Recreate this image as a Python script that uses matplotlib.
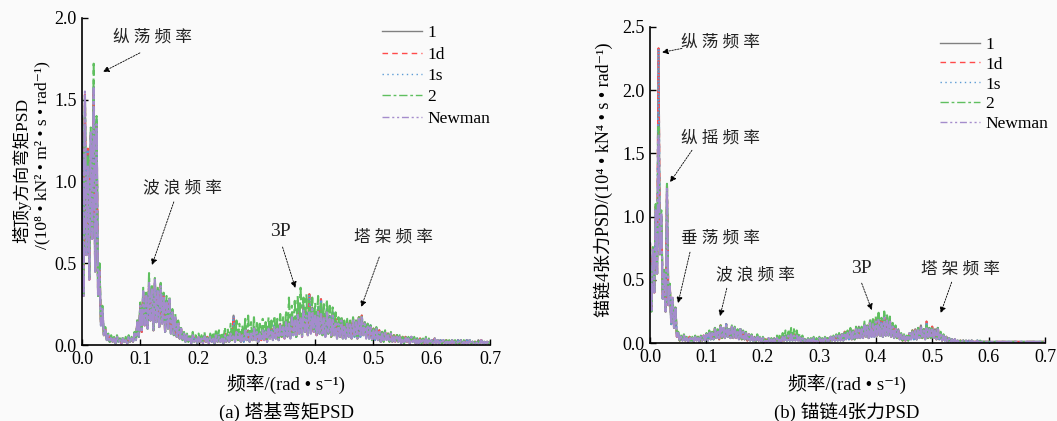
import numpy as np
import matplotlib
matplotlib.use("Agg")
import matplotlib.pyplot as plt

plt.rcParams['font.family'] = ['Liberation Serif', 'Noto Sans CJK SC', 'DejaVu Serif']
plt.rcParams['axes.unicode_minus'] = False

# ---------------- data ----------------
# peak values every 0.005 rad/s from 0 to 0.7, trough values in between
series_names = ['1', '1d', '1s', '2', 'Newman']

# (a) tower base moment PSD
a_newman = [1.35, 1.55, 1.10, 1.30, 1.57, 1.35, 0.45, 0.22, 0.10, 0.06,
            0.05, 0.04, 0.05, 0.03, 0.04, 0.03, 0.05, 0.04, 0.07, 0.14,
            0.24, 0.33, 0.30, 0.38, 0.34, 0.40, 0.33, 0.36, 0.30, 0.26,
            0.28, 0.20, 0.17, 0.13, 0.10, 0.07, 0.06, 0.05, 0.06, 0.04,
            0.05, 0.04, 0.06, 0.04, 0.05, 0.04, 0.06, 0.05, 0.04, 0.06,
            0.05, 0.07, 0.06, 0.08, 0.07, 0.06, 0.09, 0.08, 0.07, 0.10,
            0.08, 0.07, 0.09, 0.08, 0.10, 0.09, 0.11, 0.10, 0.12, 0.11,
            0.14, 0.13, 0.17, 0.15, 0.19, 0.17, 0.21, 0.18, 0.20, 0.22,
            0.18, 0.21, 0.19, 0.17, 0.20, 0.16, 0.18, 0.14, 0.13, 0.15,
            0.12, 0.14, 0.13, 0.15, 0.14, 0.16, 0.17, 0.13, 0.12, 0.11,
            0.09, 0.10, 0.08, 0.07, 0.08, 0.06, 0.07, 0.05, 0.06, 0.05,
            0.04, 0.05, 0.04, 0.05, 0.04, 0.03, 0.04, 0.03, 0.04, 0.03,
            0.03, 0.04, 0.03, 0.02, 0.03, 0.03, 0.02, 0.03, 0.02, 0.02,
            0.03, 0.02, 0.02, 0.03, 0.02, 0.02, 0.02, 0.03, 0.02, 0.02,
            0.02]
a_2 = [1.38, 1.52, 1.15, 1.33, 1.72, 1.40, 0.50, 0.24, 0.11, 0.07,
       0.06, 0.05, 0.06, 0.04, 0.05, 0.05, 0.06, 0.05, 0.08, 0.16,
       0.26, 0.35, 0.32, 0.44, 0.36, 0.41, 0.35, 0.38, 0.32, 0.30,
       0.30, 0.22, 0.19, 0.15, 0.11, 0.08, 0.07, 0.07, 0.08, 0.06,
       0.07, 0.06, 0.08, 0.06, 0.07, 0.08, 0.10, 0.09, 0.08, 0.11,
       0.10, 0.13, 0.12, 0.15, 0.13, 0.12, 0.16, 0.18, 0.14, 0.17,
       0.15, 0.13, 0.16, 0.14, 0.17, 0.15, 0.18, 0.16, 0.19, 0.17,
       0.21, 0.29, 0.24, 0.27, 0.30, 0.35, 0.29, 0.31, 0.27, 0.29,
       0.26, 0.30, 0.27, 0.25, 0.28, 0.24, 0.23, 0.20, 0.17, 0.18,
       0.15, 0.16, 0.15, 0.17, 0.16, 0.17, 0.18, 0.15, 0.13, 0.12,
       0.10, 0.11, 0.09, 0.08, 0.09, 0.07, 0.08, 0.06, 0.07, 0.06,
       0.05, 0.06, 0.05, 0.06, 0.05, 0.04, 0.05, 0.04, 0.05, 0.04,
       0.04, 0.04, 0.03, 0.03, 0.04, 0.03, 0.03, 0.03, 0.03, 0.02,
       0.03, 0.03, 0.02, 0.03, 0.02, 0.03, 0.02, 0.03, 0.02, 0.02,
       0.02]
a_1 = [1.40, 1.53, 1.20, 1.28, 1.58, 1.38, 0.47, 0.21, 0.10, 0.06,
       0.05, 0.04, 0.05, 0.04, 0.04, 0.03, 0.05, 0.04, 0.07, 0.15,
       0.25, 0.32, 0.31, 0.37, 0.35, 0.39, 0.34, 0.37, 0.31, 0.27,
       0.27, 0.21, 0.16, 0.14, 0.10, 0.07, 0.06, 0.05, 0.06, 0.05,
       0.05, 0.05, 0.06, 0.05, 0.06, 0.05, 0.07, 0.06, 0.05, 0.07,
       0.06, 0.08, 0.18, 0.09, 0.08, 0.07, 0.10, 0.09, 0.08, 0.11,
       0.09, 0.08, 0.10, 0.09, 0.11, 0.10, 0.12, 0.11, 0.13, 0.12,
       0.15, 0.14, 0.18, 0.17, 0.21, 0.19, 0.24, 0.20, 0.31, 0.23,
       0.20, 0.23, 0.28, 0.19, 0.22, 0.18, 0.20, 0.16, 0.14, 0.16,
       0.13, 0.15, 0.14, 0.16, 0.15, 0.17, 0.18, 0.14, 0.13, 0.12,
       0.10, 0.10, 0.09, 0.08, 0.08, 0.07, 0.07, 0.06, 0.06, 0.05,
       0.05, 0.05, 0.04, 0.05, 0.04, 0.04, 0.04, 0.03, 0.04, 0.03,
       0.03, 0.04, 0.03, 0.03, 0.03, 0.03, 0.02, 0.03, 0.02, 0.03,
       0.03, 0.02, 0.03, 0.03, 0.02, 0.02, 0.03, 0.03, 0.02, 0.02,
       0.02]
a_lo = [0.30, 0.55, 0.40, 0.65, 0.45, 0.30, 0.12, 0.06, 0.03, 0.02,
        0.02, 0.01, 0.02, 0.01, 0.02, 0.01, 0.02, 0.02, 0.03, 0.05,
        0.08, 0.12, 0.10, 0.15, 0.09, 0.14, 0.11, 0.13, 0.08, 0.10,
        0.07, 0.06, 0.05, 0.04, 0.03, 0.02, 0.02, 0.01, 0.02, 0.01,
        0.02, 0.01, 0.02, 0.01, 0.02, 0.01, 0.02, 0.02, 0.01, 0.02,
        0.02, 0.03, 0.02, 0.03, 0.02, 0.02, 0.03, 0.02, 0.03, 0.03,
        0.02, 0.03, 0.03, 0.02, 0.04, 0.03, 0.04, 0.03, 0.05, 0.04,
        0.05, 0.04, 0.06, 0.05, 0.07, 0.05, 0.08, 0.06, 0.07, 0.08,
        0.06, 0.07, 0.06, 0.05, 0.07, 0.05, 0.06, 0.04, 0.05, 0.04,
        0.04, 0.05, 0.04, 0.05, 0.04, 0.05, 0.06, 0.04, 0.04, 0.03,
        0.03, 0.03, 0.02, 0.02, 0.03, 0.02, 0.02, 0.02, 0.02, 0.01,
        0.01, 0.02, 0.01, 0.02, 0.01, 0.01, 0.01, 0.01, 0.01, 0.01,
        0.01, 0.01, 0.01, 0.01, 0.01, 0.01, 0.01, 0.01, 0.01, 0.01,
        0.01, 0.01, 0.01, 0.01, 0.01, 0.01, 0.01, 0.01, 0.01, 0.01]

# (b) mooring line 4 tension PSD
b_newman = [0.62, 0.74, 1.05, 1.64, 1.02, 0.55, 1.22, 0.45, 0.36, 0.27,
            0.08, 0.05, 0.06, 0.04, 0.05, 0.04, 0.05, 0.04, 0.05, 0.06,
            0.07, 0.09, 0.08, 0.11, 0.10, 0.13, 0.12, 0.14, 0.11, 0.13,
            0.12, 0.10, 0.11, 0.09, 0.08, 0.07, 0.06, 0.05, 0.06, 0.04,
            0.04, 0.03, 0.04, 0.03, 0.03, 0.04, 0.04, 0.05, 0.05, 0.06,
            0.07, 0.06, 0.06, 0.05, 0.04, 0.03, 0.03, 0.03, 0.04, 0.03,
            0.04, 0.03, 0.04, 0.04, 0.05, 0.05, 0.06, 0.06, 0.07, 0.08,
            0.08, 0.10, 0.09, 0.11, 0.12, 0.11, 0.14, 0.13, 0.16, 0.15,
            0.17, 0.19, 0.16, 0.20, 0.18, 0.17, 0.13, 0.12, 0.10, 0.07,
            0.06, 0.05, 0.08, 0.09, 0.10, 0.11, 0.12, 0.10, 0.13, 0.11,
            0.12, 0.10, 0.11, 0.08, 0.06, 0.05, 0.04, 0.03, 0.03, 0.02,
            0.02, 0.02, 0.02, 0.02, 0.02, 0.01, 0.02, 0.01, 0.01, 0.01,
            0.01, 0.01, 0.01, 0.01, 0.01, 0.01, 0.01, 0.01, 0.01, 0.01,
            0.01, 0.01, 0.01, 0.01, 0.01, 0.01, 0.01, 0.01, 0.01, 0.01,
            0.01]
b_2 = [0.64, 0.76, 1.10, 1.71, 1.05, 0.58, 1.26, 0.47, 0.37, 0.29,
       0.09, 0.06, 0.07, 0.05, 0.06, 0.05, 0.06, 0.05, 0.06, 0.07,
       0.08, 0.10, 0.09, 0.12, 0.11, 0.14, 0.13, 0.15, 0.12, 0.14,
       0.13, 0.11, 0.12, 0.10, 0.09, 0.08, 0.07, 0.06, 0.07, 0.05,
       0.05, 0.04, 0.05, 0.04, 0.05, 0.06, 0.07, 0.08, 0.10, 0.11,
       0.12, 0.11, 0.10, 0.08, 0.06, 0.04, 0.04, 0.04, 0.05, 0.04,
       0.05, 0.04, 0.05, 0.05, 0.06, 0.06, 0.07, 0.08, 0.09, 0.10,
       0.10, 0.12, 0.11, 0.13, 0.14, 0.13, 0.17, 0.16, 0.20, 0.19,
       0.21, 0.24, 0.20, 0.25, 0.22, 0.21, 0.16, 0.14, 0.11, 0.08,
       0.07, 0.06, 0.09, 0.10, 0.11, 0.12, 0.13, 0.11, 0.14, 0.12,
       0.13, 0.11, 0.12, 0.09, 0.07, 0.05, 0.04, 0.03, 0.03, 0.02,
       0.02, 0.02, 0.02, 0.02, 0.02, 0.01, 0.02, 0.02, 0.01, 0.01,
       0.01, 0.01, 0.01, 0.01, 0.01, 0.01, 0.01, 0.01, 0.01, 0.01,
       0.01, 0.01, 0.01, 0.01, 0.01, 0.01, 0.01, 0.01, 0.01, 0.01,
       0.01]
b_1 = [0.79, 0.72, 1.08, 2.33, 1.00, 0.57, 1.24, 0.46, 0.35, 0.28,
       0.08, 0.05, 0.06, 0.04, 0.05, 0.04, 0.05, 0.05, 0.05, 0.06,
       0.07, 0.09, 0.08, 0.12, 0.10, 0.14, 0.12, 0.15, 0.11, 0.13,
       0.12, 0.10, 0.11, 0.09, 0.08, 0.07, 0.06, 0.05, 0.06, 0.04,
       0.04, 0.03, 0.04, 0.03, 0.04, 0.04, 0.05, 0.06, 0.06, 0.07,
       0.08, 0.07, 0.07, 0.05, 0.04, 0.03, 0.03, 0.03, 0.04, 0.03,
       0.04, 0.03, 0.04, 0.04, 0.05, 0.05, 0.06, 0.07, 0.07, 0.09,
       0.09, 0.11, 0.10, 0.12, 0.13, 0.12, 0.15, 0.14, 0.18, 0.17,
       0.19, 0.22, 0.18, 0.23, 0.20, 0.19, 0.14, 0.13, 0.11, 0.07,
       0.06, 0.05, 0.08, 0.10, 0.11, 0.12, 0.14, 0.11, 0.17, 0.12,
       0.13, 0.11, 0.12, 0.08, 0.06, 0.05, 0.04, 0.03, 0.03, 0.02,
       0.02, 0.02, 0.02, 0.02, 0.02, 0.01, 0.02, 0.01, 0.01, 0.01,
       0.01, 0.01, 0.01, 0.01, 0.01, 0.01, 0.01, 0.01, 0.01, 0.01,
       0.01, 0.01, 0.01, 0.01, 0.01, 0.01, 0.01, 0.01, 0.01, 0.01,
       0.01]
b_lo = [0.25, 0.40, 0.55, 0.70, 0.35, 0.25, 0.30, 0.15, 0.12, 0.05,
        0.02, 0.02, 0.02, 0.01, 0.02, 0.01, 0.02, 0.01, 0.02, 0.02,
        0.02, 0.03, 0.03, 0.04, 0.03, 0.04, 0.04, 0.05, 0.04, 0.04,
        0.04, 0.03, 0.03, 0.03, 0.02, 0.02, 0.02, 0.01, 0.02, 0.01,
        0.01, 0.01, 0.01, 0.01, 0.01, 0.01, 0.01, 0.02, 0.02, 0.02,
        0.02, 0.02, 0.02, 0.01, 0.01, 0.01, 0.01, 0.01, 0.01, 0.01,
        0.01, 0.01, 0.01, 0.01, 0.02, 0.02, 0.02, 0.02, 0.02, 0.03,
        0.03, 0.03, 0.03, 0.04, 0.04, 0.04, 0.05, 0.04, 0.05, 0.05,
        0.06, 0.06, 0.05, 0.06, 0.06, 0.05, 0.04, 0.04, 0.03, 0.02,
        0.02, 0.02, 0.03, 0.03, 0.03, 0.04, 0.04, 0.03, 0.04, 0.04,
        0.04, 0.03, 0.03, 0.02, 0.02, 0.01, 0.01, 0.01, 0.01, 0.01,
        0.01, 0.01, 0.01, 0.01, 0.01, 0.01, 0.01, 0.01, 0.01, 0.01,
        0.01, 0.01, 0.01, 0.01, 0.01, 0.01, 0.01, 0.01, 0.01, 0.01,
        0.01, 0.01, 0.01, 0.01, 0.01, 0.01, 0.01, 0.01, 0.01, 0.01]

freq_step = 0.005

# ---------------- styles ----------------
colors = {'1': '#808080', '1d': '#ff4a4a', '1s': '#5b9bd5', '2': '#5fbf5f', 'Newman': '#a48ccc'}
styles = {'1': '-', '1d': (0, (4, 3)), '1s': (0, (1, 2)),
          '2': (0, (7, 2, 2, 2)), 'Newman': (0, (8, 1, 1.5, 1, 1.5, 1))}
leg_styles = {'1': '-', '1d': (0, (4, 3)), '1s': (0, (1, 2.5)),
              '2': (0, (6, 2, 2, 2)), 'Newman': (0, (5, 2, 1.5, 2, 1.5, 2))}
LW = 1.5


def zigzag(hi, lo):
    # alternate peak / trough samples so the dense PSD oscillation shows
    hi = np.asarray(hi)
    lo = np.asarray(lo)
    f_hi = np.arange(len(hi)) * freq_step
    f_lo = f_hi[:-1] + freq_step / 2
    x = np.empty(len(hi) + len(lo))
    y = np.empty(len(hi) + len(lo))
    x[0::2], x[1::2] = f_hi, f_lo
    y[0::2], y[1::2] = hi, lo
    return x, y


def panel(ax, data, lo, ymax):
    for name in series_names:
        x, y = zigzag(data[name], lo)
        ax.plot(x, y, color=colors[name], linestyle=styles[name], lw=LW, label=name)
    ax.set_xlim(0, 0.7)
    ax.set_ylim(0, ymax)
    ax.set_xticks(np.arange(0, 0.71, 0.1))
    ax.set_yticks(np.arange(0, ymax + 0.01, 0.5))
    ax.xaxis.set_major_formatter(plt.FormatStrFormatter('%.1f'))
    ax.yaxis.set_major_formatter(plt.FormatStrFormatter('%.1f'))
    ax.spines['top'].set_visible(False)
    ax.spines['right'].set_visible(False)
    for s in ['left', 'bottom']:
        ax.spines[s].set_linewidth(1.2)
    ax.tick_params(direction='in', length=4, width=1, labelsize=13, pad=4)
    ax.set_facecolor('none')


def legend(ax, anchor, spacing):
    leg = ax.legend(loc='upper left', bbox_to_anchor=anchor, frameon=False, fontsize=12.5,
                    borderaxespad=0, borderpad=0, handlelength=2.3, handletextpad=0.3,
                    labelspacing=spacing)
    for line, name in zip(leg.get_lines(), series_names):
        line.set_linewidth(1.0)
        line.set_linestyle(leg_styles[name])


def note(ax, text, tpos, tail, tip, size=12):
    ax.text(tpos[0], tpos[1], text, ha='center', va='center', fontsize=size, color='#222222')
    ax.annotate('', xy=tip, xytext=tail,
                arrowprops=dict(arrowstyle='-|>', color='k', lw=0.6,
                                linestyle=(0, (2, 1.5)), mutation_scale=9,
                                shrinkA=0, shrinkB=0))


fig = plt.figure(figsize=(10.57, 4.21), dpi=100, facecolor='#fafafa')

ax1 = fig.add_axes([0.0776, 0.1805, 0.386, 0.777])
panel(ax1, {'1': a_1, '1d': a_1, '1s': a_1, '2': a_2, 'Newman': a_newman}, a_lo, 2.0)
legend(ax1, (0.735, 0.978), 0.3)
note(ax1, '纵 荡 频 率', (0.1216, 1.878), (0.0993, 1.786), (0.036, 1.670))
note(ax1, '波 浪 频 率', (0.173, 0.960), (0.1575, 0.875), (0.120, 0.489))
note(ax1, '3P', (0.341, 0.691), (0.344, 0.599), (0.366, 0.349), size=14)
note(ax1, '塔 架 频 率', (0.534, 0.654), (0.510, 0.538), (0.479, 0.232))

ax2 = fig.add_axes([0.615, 0.185, 0.3737, 0.751])
panel(ax2, {'1': b_1, '1d': b_1, '1s': b_1, '2': b_2, 'Newman': b_newman}, b_lo, 2.5)
legend(ax2, (0.734, 0.97), 0.22)
note(ax2, '纵 荡 频 率', (0.124, 2.378), (0.0566, 2.330), (0.0212, 2.299))
note(ax2, '纵 摇 频 率', (0.124, 1.619), (0.0743, 1.525), (0.0354, 1.272))
note(ax2, '垂 荡 频 率', (0.124, 0.829), (0.0708, 0.719), (0.0496, 0.316))
note(ax2, '波 浪 频 率', (0.1876, 0.537), (0.136, 0.434), (0.124, 0.213))
note(ax2, '3P', (0.375, 0.592), (0.375, 0.474), (0.393, 0.261), size=14)
note(ax2, '塔 架 频 率', (0.550, 0.585), (0.5345, 0.482), (0.515, 0.237))

# axis titles and captions
fig.text(0.0208, 0.596, '塔顶y方向弯矩PSD', rotation=90, ha='center', va='center', fontsize=12.5)
fig.text(0.0397, 0.632, '/(10⁸ • kN² • m² • s • rad⁻¹)', rotation=90,
         ha='center', va='center', fontsize=12.5)
fig.text(0.5705, 0.572, '锚链4张力PSD/(10⁴ • kN⁴ • s • rad⁻¹)', rotation=90,
         ha='center', va='center', fontsize=13)

for cx in (0.2706, 0.8013):
    fig.text(cx, 0.0875, '频率/(rad • s⁻¹)', ha='center', va='center', fontsize=13.5)
fig.text(0.2706, 0.0214, '(a) 塔基弯矩PSD', ha='center', va='center', fontsize=13.5)
fig.text(0.8013, 0.0214, '(b) 锚链4张力PSD', ha='center', va='center', fontsize=13.5)

fig.savefig('out.png', dpi=100, facecolor=fig.get_facecolor())
